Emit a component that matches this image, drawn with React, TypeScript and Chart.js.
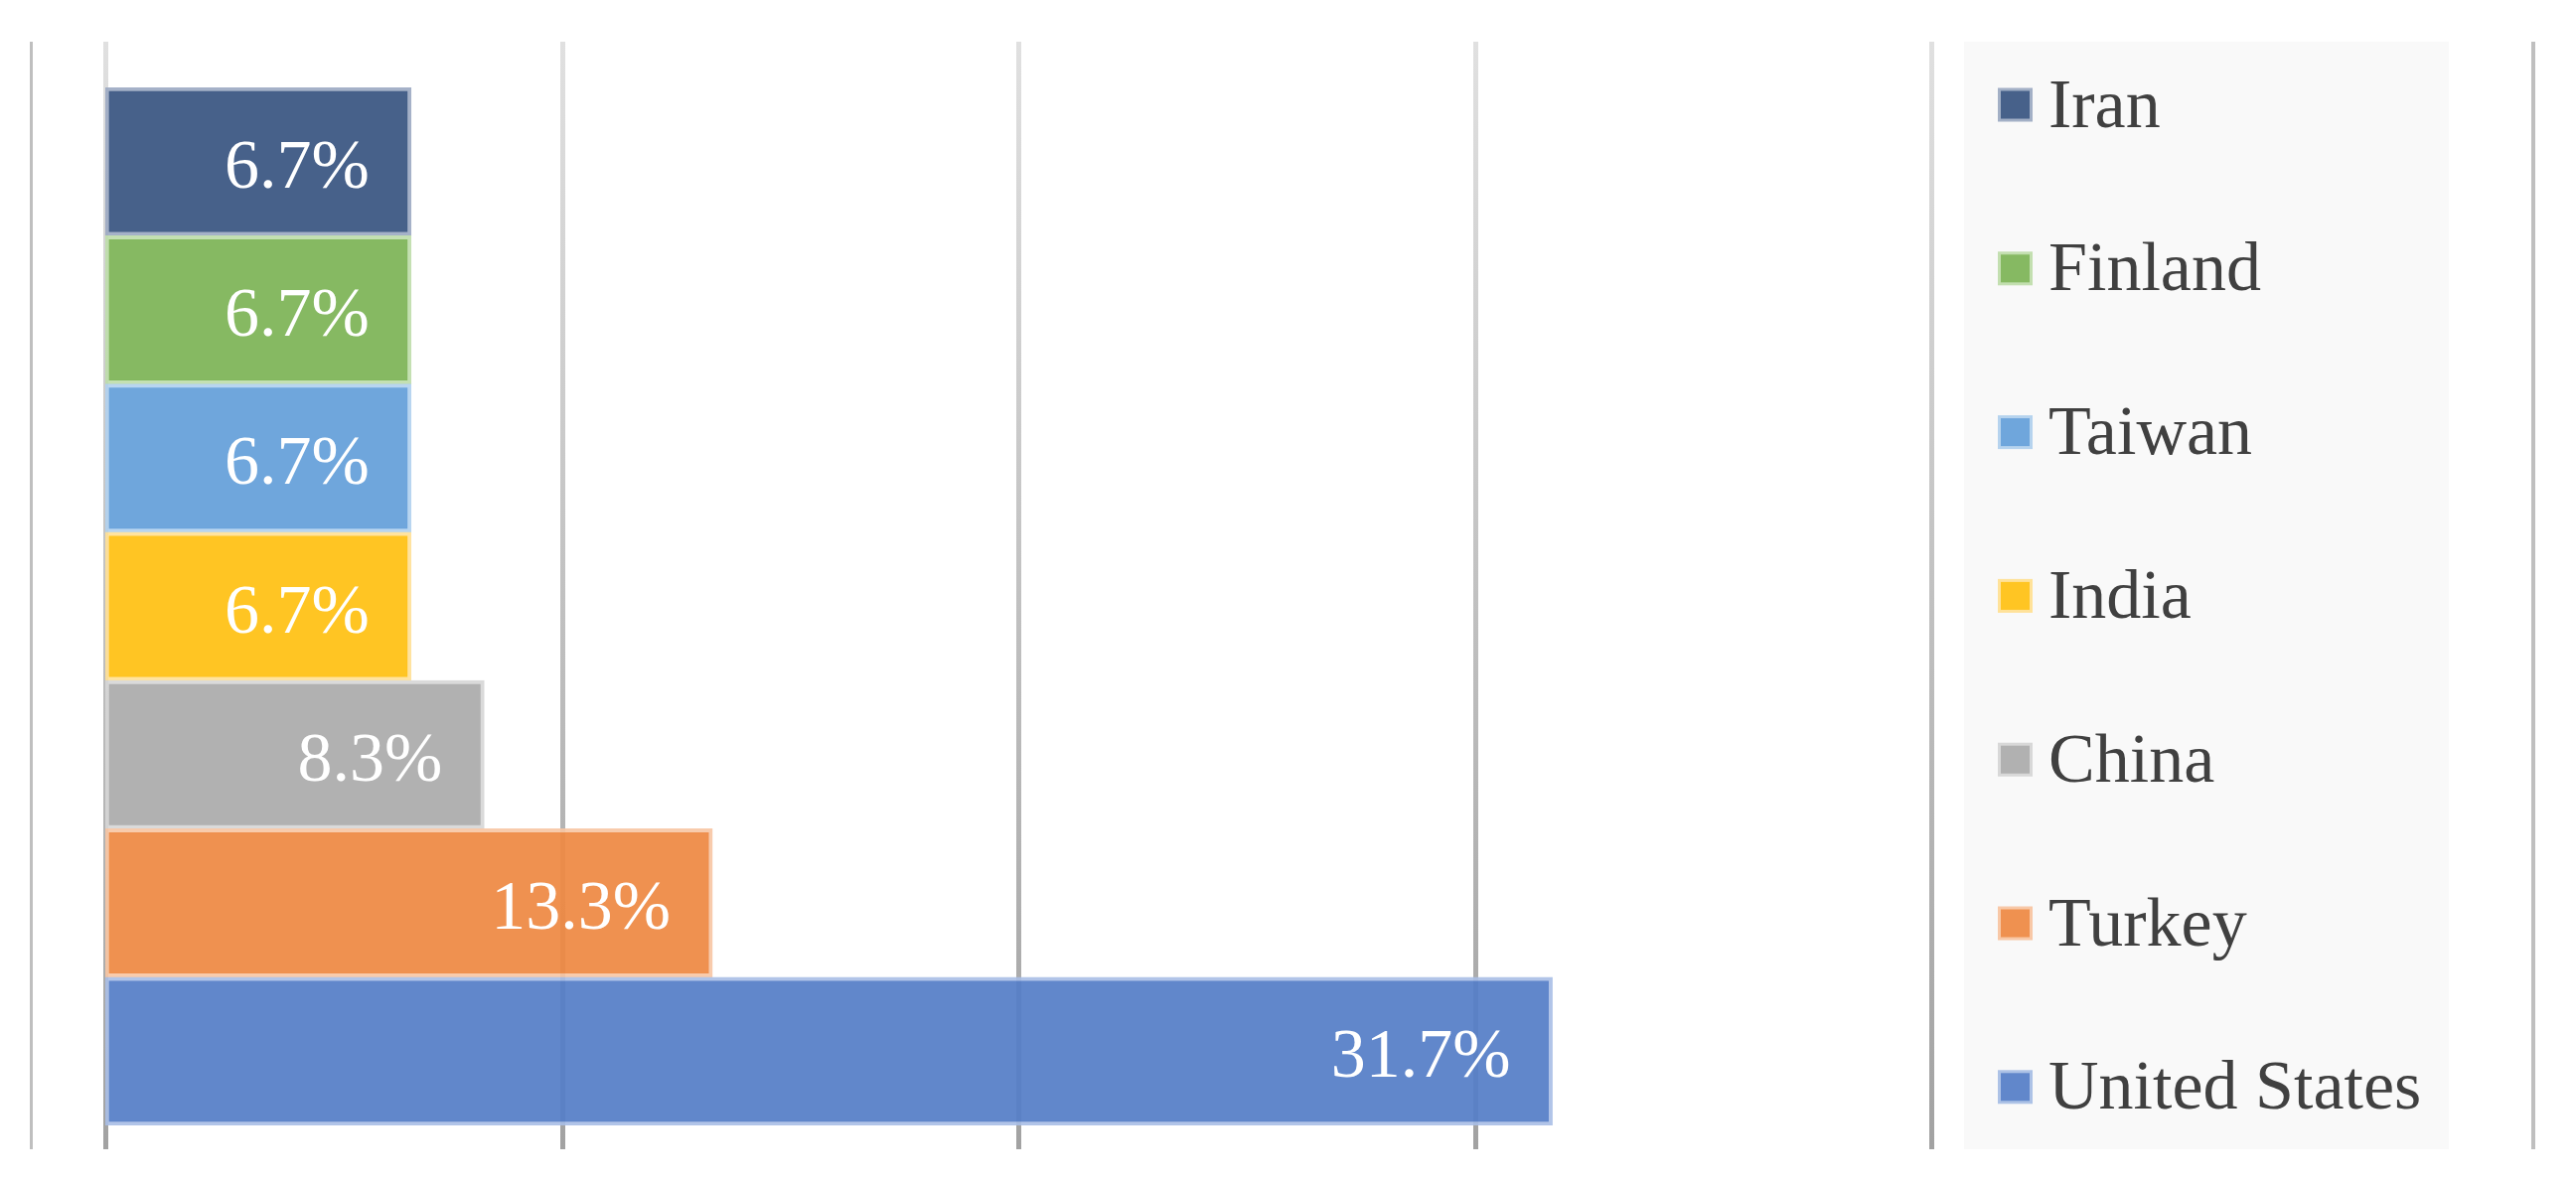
import React, { useEffect, useRef } from 'react';
import { Chart, registerables } from 'chart.js';

Chart.register(...registerables);

// ---- data ----
const countries = ['Iran', 'Finland', 'Taiwan', 'India', 'China', 'Turkey', 'United States'];
const shares = [6.7, 6.7, 6.7, 6.7, 8.3, 13.3, 31.7];
const axisTicks = [0, 10, 20, 30, 40];

// ---- styles ----
const barFill = [
  'rgba(57,85,129,0.93)',
  'rgba(125,180,86,0.93)',
  'rgba(100,159,217,0.93)',
  'rgba(255,193,18,0.93)',
  'rgba(171,171,171,0.93)',
  'rgba(238,137,67,0.93)',
  'rgba(85,126,199,0.93)',
];
const barEdge = [
  'rgba(155,169,194,0.9)',
  'rgba(190,221,170,0.9)',
  'rgba(176,208,238,0.9)',
  'rgba(255,224,150,0.9)',
  'rgba(214,214,214,0.9)',
  'rgba(247,197,163,0.9)',
  'rgba(168,190,230,0.9)',
];
const keyFill = ['#47618a', '#86b962', '#6fa6dc', '#ffc523', '#b1b1b1', '#ef9150', '#6187cb'];
const keyEdge = ['#a3b0c6', '#c3dfb0', '#b6d3ee', '#ffe29a', '#d8d8d8', '#f8c8a7', '#adc2e6'];

const FONT = "70px 'Liberation Serif', 'Times New Roman', serif";

const decor = {
  id: 'decor',
  beforeDatasetsDraw(chart: any) {
    const ctx = chart.ctx;
    const xs = chart.scales.x;
    const top = 42;
    const bottom = 1157;
    ctx.save();
    // legend panel
    ctx.fillStyle = '#f9f9f9';
    ctx.fillRect(1977, top, 488, bottom - top);
    // outer frame lines
    ctx.fillStyle = '#bfbfbf';
    ctx.fillRect(30, top, 3, bottom - top);
    ctx.fillRect(2548, top, 4, bottom - top);
    // vertical gridlines
    const g = ctx.createLinearGradient(0, top, 0, bottom);
    g.addColorStop(0, '#e0e0e0');
    g.addColorStop(1, '#a2a2a2');
    ctx.fillStyle = g;
    axisTicks.forEach((t) => {
      const x = xs.getPixelForValue(t);
      ctx.fillRect(Math.round(x) - 2, top, 5, bottom - top);
    });
    ctx.restore();
  },
  afterDatasetsDraw(chart: any) {
    const ctx = chart.ctx;
    const meta = chart.getDatasetMeta(0);
    ctx.save();
    ctx.font = FONT;
    ctx.fillStyle = '#ffffff';
    ctx.textAlign = 'right';
    ctx.textBaseline = 'alphabetic';
    meta.data.forEach((bar: any, i: number) => {
      const v = chart.data.datasets[0].data[i] as number;
      ctx.fillText(v.toFixed(1) + '%', bar.x - 42, bar.y + 26);
    });
    ctx.restore();
  },
  afterDraw(chart: any) {
    const ctx = chart.ctx;
    const labels = chart.data.labels as string[];
    ctx.save();
    ctx.font = FONT;
    ctx.textAlign = 'left';
    ctx.textBaseline = 'alphabetic';
    labels.forEach((lab, i) => {
      const cy = 105.5 + i * 164.8;
      ctx.fillStyle = keyEdge[i];
      ctx.fillRect(2011, cy - 17, 35, 34);
      ctx.fillStyle = keyFill[i];
      ctx.fillRect(2014, cy - 14, 29, 28);
      ctx.fillStyle = '#404040';
      ctx.fillText(lab, 2062, cy + 22);
    });
    ctx.restore();
  },
};

export default function App() {
  const ref = useRef<HTMLCanvasElement>(null);
  useEffect(() => {
    if (!ref.current) return;
    const chart = new Chart(ref.current, {
      type: 'bar',
      data: {
        labels: countries,
        datasets: [
          {
            data: shares,
            backgroundColor: barFill,
            borderColor: barEdge,
            borderWidth: 4,
            borderSkipped: false,
            barPercentage: 1,
            categoryPercentage: 1,
          },
        ],
      },
      options: {
        indexAxis: 'y',
        responsive: false,
        animation: false,
        devicePixelRatio: 1,
        layout: { padding: { left: 106, right: 649, top: 88, bottom: 60 } },
        scales: {
          x: { display: false, min: 0, max: 40 },
          y: { display: false },
        },
        plugins: {
          legend: { display: false },
          tooltip: { enabled: false },
        },
      },
      plugins: [decor],
    });
    return () => chart.destroy();
  }, []);
  return (
    <div style={{ position: 'fixed', left: 0, top: 0, width: 2593, height: 1193, background: '#ffffff' }}>
      <canvas ref={ref} width={2593} height={1193} style={{ display: 'block' }} />
    </div>
  );
}
